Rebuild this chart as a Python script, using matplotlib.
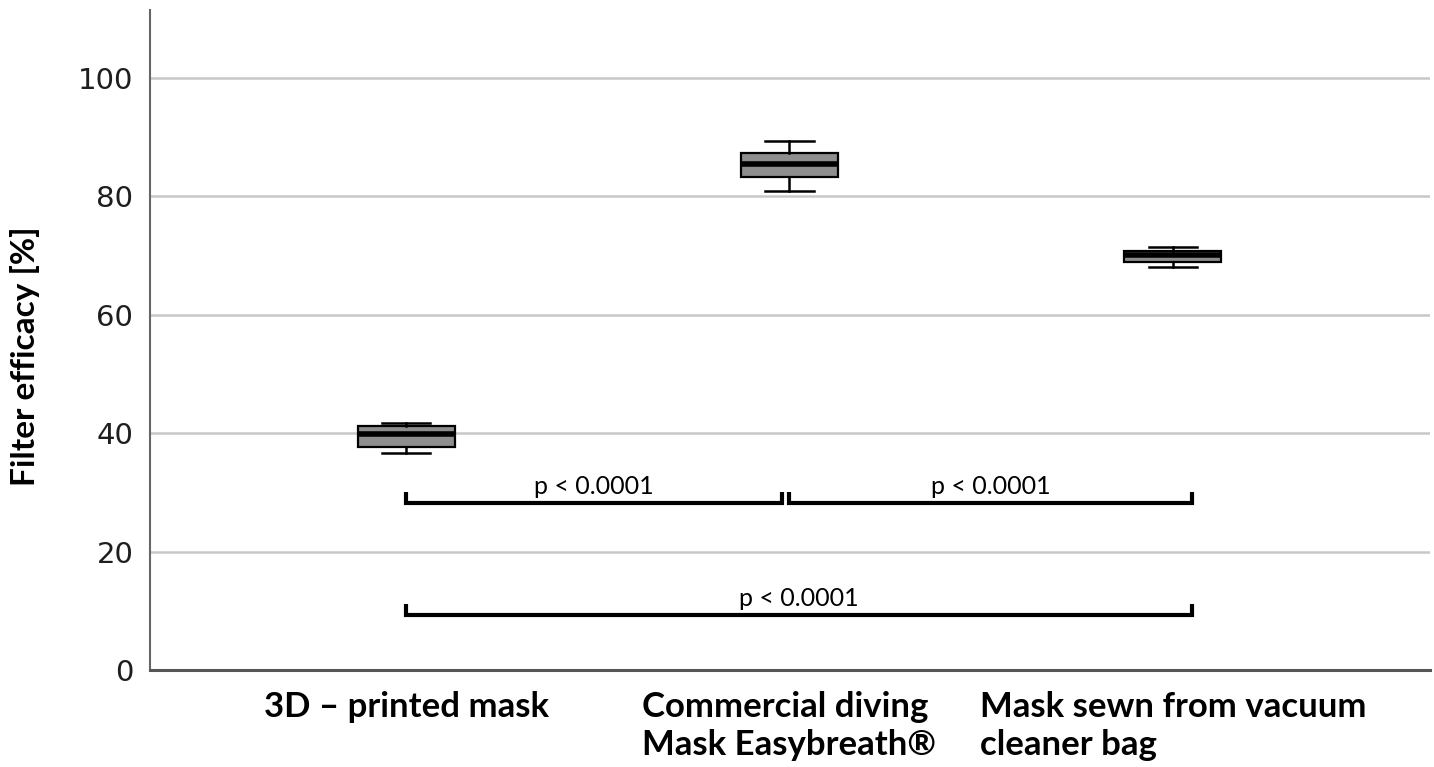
import matplotlib.pyplot as plt

# Data
groups = ['3D \u2013 printed mask', 'Commercial diving\nMask Easybreath\u00ae',
          'Mask sewn from vacuum\ncleaner bag']
medians = [39.8, 85.5, 70.1]
q1 = [37.7, 83.2, 69.0]
q3 = [41.2, 87.4, 70.8]
whis_lo = [36.7, 81.0, 68.1]
whis_hi = [41.7, 89.4, 71.4]

# significance brackets: (from group, to group, height, label)
brackets = [(1.0, 1.98, 28.2, 'p < 0.0001'),
            (2.0, 3.05, 28.2, 'p < 0.0001'),
            (1.0, 3.05, 9.3, 'p < 0.0001')]

label_font = ['Lato', 'DejaVu Sans']

fig = plt.figure(figsize=(14.34, 7.67), dpi=100)
ax = fig.add_axes([0.1046, 0.1265, 0.8924, 0.8605])

stats = []
for i in range(3):
    stats.append(dict(med=medians[i], q1=q1[i], q3=q3[i],
                      whislo=whis_lo[i], whishi=whis_hi[i], fliers=[]))

ax.bxp(stats, positions=[1, 2, 3], widths=0.253, patch_artist=True,
       showfliers=False,
       boxprops=dict(facecolor='#8e8e8e', edgecolor='black', linewidth=1.6),
       medianprops=dict(color='black', linewidth=4),
       whiskerprops=dict(color='black', linewidth=1.8),
       capprops=dict(color='black', linewidth=1.8), zorder=3)

for x0, x1, y, label in brackets:
    ax.plot([x0, x0, x1, x1], [y + 1.9, y, y, y + 1.9], color='black',
            lw=3, solid_capstyle='butt', solid_joinstyle='miter', zorder=3)
    ax.text((x0 + x1) / 2, y + 0.9, label, ha='center', va='bottom',
            fontsize=18, family=label_font)

ax.set_xlim(0.332, 3.67)
ax.set_ylim(0, 111.5)
ax.set_yticks([0, 20, 40, 60, 80, 100])
ax.set_yticklabels(['0', '20', '40', '60', '80', '100'], family='DejaVu Sans')
ax.set_xticks([1, 2, 3])
ax.set_xticklabels(groups, fontsize=25, fontweight='bold', family=label_font,
                   multialignment='left', linespacing=1.25)
ax.tick_params(axis='x', length=0, pad=15)
ax.tick_params(axis='y', length=0, pad=12, labelsize=21, labelcolor='#1e1e1e')
ax.set_ylabel('Filter efficacy [%]', fontsize=24, fontweight='bold',
              family=label_font)
ax.yaxis.set_label_coords(-0.086, 0.475)

ax.grid(axis='y', color='#c8c8c8', linewidth=1.8)
ax.set_axisbelow(True)
for s in ['top', 'right']:
    ax.spines[s].set_visible(False)
ax.spines['left'].set_color('#666666')
ax.spines['left'].set_linewidth(1.5)
ax.spines['bottom'].set_color('#555555')
ax.spines['bottom'].set_linewidth(2.2)

fig.savefig('out.png', dpi=100)
